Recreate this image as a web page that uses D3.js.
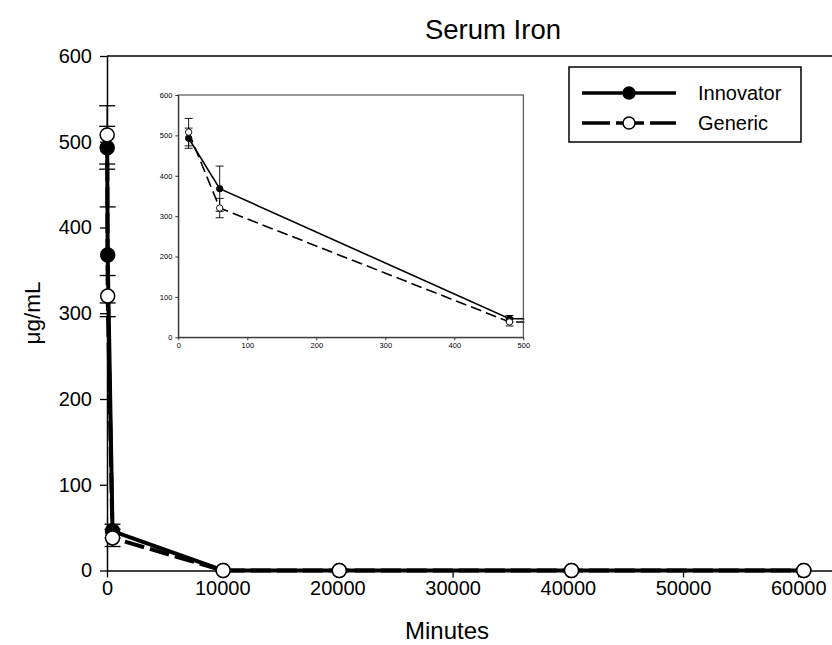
<!DOCTYPE html>
<html>
<head>
<meta charset="utf-8">
<script src="https://cdn.jsdelivr.net/npm/d3@7"></script>
<style>
  body { margin: 0; background: white; }
  svg { display: block; font-family: "Liberation Sans", Arial, sans-serif; }
</style>
</head>
<body>
<div id="chart"></div>
<script>
const width = 832;
const height = 645;

// sampling times (minutes) and mean serum iron (ug/mL) with error bars
const minutes = [15, 60, 480, 10080, 20160, 40320, 60480];
const innovator = [493, 368, 46, 0, 0, 0, 0];
const innovatorErr = [25, 56, 8, 0, 0, 0, 0];
const generic = [508, 320, 38, 0, 0, 0, 0];
const genericErr = [34, 24, 10, 0, 0, 0, 0];

const xTicks = [0, 10000, 20000, 30000, 40000, 50000, 60000];
const yTicks = [0, 100, 200, 300, 400, 500, 600];
const insetXTicks = [0, 100, 200, 300, 400, 500];
const insetYTicks = [0, 100, 200, 300, 400, 500, 600];

const seriesNames = ["Innovator", "Generic"];

const innovatorData = minutes.map((t, i) => ({ t, v: innovator[i], e: innovatorErr[i] }));
const genericData = minutes.map((t, i) => ({ t, v: generic[i], e: genericErr[i] }));

const svg = d3.select("#chart")
  .append("svg")
  .attr("width", width)
  .attr("height", height);

// ---- main chart ----
const x = d3.scaleLinear().domain([0, 63000]).range([107, 832.8]);
const y = d3.scaleLinear().domain([0, 600]).range([570.5, 56]);

svg.append("text")
  .attr("x", 493)
  .attr("y", 39)
  .attr("text-anchor", "middle")
  .style("font-size", "27.5px")
  .text("Serum Iron");

svg.append("text")
  .attr("x", 447)
  .attr("y", 639)
  .attr("text-anchor", "middle")
  .style("font-size", "24px")
  .text("Minutes");

svg.append("text")
  .attr("transform", "translate(40,313) rotate(-90)")
  .attr("text-anchor", "middle")
  .style("font-size", "22.5px")
  .text("μg/mL");

const xAxis = svg.append("g")
  .attr("transform", `translate(0,${y(0)})`)
  .call(d3.axisBottom(x).tickValues(xTicks).tickFormat(d3.format("d")).tickSize(7).tickSizeOuter(0).tickPadding(3));

const yAxis = svg.append("g")
  .attr("transform", `translate(${x(0)},0)`)
  .call(d3.axisLeft(y).tickValues(yTicks).tickSize(7).tickSizeOuter(0).tickPadding(8));

[xAxis, yAxis].forEach(a => {
  a.selectAll("text").style("font-size", "20px").attr("fill", "black").style("font-family", "'Liberation Sans', Arial, sans-serif");
  a.selectAll("line").attr("stroke", "black").attr("stroke-width", 1.3);
  a.select(".domain").attr("stroke", "black").attr("stroke-width", 1.5);
});

// top frame line
svg.append("line")
  .attr("x1", x(0)).attr("x2", width)
  .attr("y1", y(600)).attr("y2", y(600))
  .attr("stroke", "black").attr("stroke-width", 1.5);

function drawSeries(g, data, sx, sy, opt) {
  const line = d3.line().x(d => sx(d.t)).y(d => sy(d.v));
  g.append("path")
    .datum(data)
    .attr("d", line)
    .attr("fill", "none")
    .attr("stroke", "black")
    .attr("stroke-width", opt.lineWidth)
    .attr("stroke-dasharray", opt.dash || null);

  const bars = data.filter(d => d.e > 0);
  g.selectAll(null)
    .data(bars)
    .enter()
    .append("line")
    .attr("x1", d => sx(d.t)).attr("x2", d => sx(d.t))
    .attr("y1", d => sy(d.v - d.e)).attr("y2", d => sy(d.v + d.e))
    .attr("stroke", "black").attr("stroke-width", opt.barWidth);

  [-1, 1].forEach(s => {
    g.selectAll(null)
      .data(bars)
      .enter()
      .append("line")
      .attr("x1", d => sx(d.t) - opt.cap).attr("x2", d => sx(d.t) + opt.cap)
      .attr("y1", d => sy(d.v + s * d.e)).attr("y2", d => sy(d.v + s * d.e))
      .attr("stroke", "black").attr("stroke-width", opt.barWidth);
  });

  g.selectAll(null)
    .data(data)
    .enter()
    .append("circle")
    .attr("cx", d => sx(d.t))
    .attr("cy", d => sy(d.v))
    .attr("r", opt.r)
    .attr("fill", opt.filled ? "black" : "white")
    .attr("stroke", "black")
    .attr("stroke-width", opt.circleStroke);
}

const mainG = svg.append("g");
drawSeries(mainG, innovatorData, x, y, { lineWidth: 4, barWidth: 1.3, cap: 8, r: 7, filled: true, circleStroke: 1.5 });
drawSeries(mainG, genericData, x, y, { lineWidth: 4, dash: "20,6", barWidth: 1.3, cap: 8, r: 7, filled: false, circleStroke: 1.5 });

// ---- legend ----
const legend = svg.append("g");
legend.append("rect")
  .attr("x", 569).attr("y", 67)
  .attr("width", 232).attr("height", 75)
  .attr("fill", "white")
  .attr("stroke", "black")
  .attr("stroke-width", 1.5);

seriesNames.forEach((name, i) => {
  const ly = 93 + i * 30;
  legend.append("line")
    .attr("x1", 582).attr("x2", 676)
    .attr("y1", ly).attr("y2", ly)
    .attr("stroke", "black")
    .attr("stroke-width", 3.5)
    .attr("stroke-dasharray", i === 0 ? null : "28,6");
  legend.append("circle")
    .attr("cx", 629).attr("cy", ly)
    .attr("r", 6)
    .attr("fill", i === 0 ? "black" : "white")
    .attr("stroke", "black")
    .attr("stroke-width", 1.5);
  legend.append("text")
    .attr("x", 698).attr("y", ly + 7)
    .style("font-size", "20px")
    .text(name);
});

// ---- inset ----
const ix = d3.scaleLinear().domain([0, 500]).range([178.3, 523.3]);
const iy = d3.scaleLinear().domain([0, 600]).range([337.3, 95]);

const inset = svg.append("g");
inset.append("rect")
  .attr("x", ix(0)).attr("y", iy(600))
  .attr("width", ix(500) - ix(0)).attr("height", iy(0) - iy(600))
  .attr("fill", "white");

svg.append("clipPath")
  .attr("id", "insetClip")
  .append("rect")
  .attr("x", ix(0)).attr("y", iy(600) - 2)
  .attr("width", ix(500) - ix(0) + 1).attr("height", iy(0) - iy(600) + 4);

const insetData = inset.append("g").attr("clip-path", "url(#insetClip)");
drawSeries(insetData, innovatorData, ix, iy, { lineWidth: 1.6, barWidth: 0.9, cap: 4, r: 3.2, filled: true, circleStroke: 0.9 });
drawSeries(insetData, genericData, ix, iy, { lineWidth: 1.6, dash: "11,5", barWidth: 0.9, cap: 4, r: 3.2, filled: false, circleStroke: 0.9 });

inset.append("rect")
  .attr("x", ix(0)).attr("y", iy(600))
  .attr("width", ix(500) - ix(0)).attr("height", iy(0) - iy(600))
  .attr("fill", "none")
  .attr("stroke", "#333")
  .attr("stroke-width", 1);

const ixAxis = inset.append("g")
  .attr("transform", `translate(0,${iy(0)})`)
  .call(d3.axisBottom(ix).tickValues(insetXTicks).tickSize(3).tickSizeOuter(0).tickPadding(2));

const iyAxis = inset.append("g")
  .attr("transform", `translate(${ix(0)},0)`)
  .call(d3.axisLeft(iy).tickValues(insetYTicks).tickSize(3).tickSizeOuter(0).tickPadding(3));

[ixAxis, iyAxis].forEach(a => {
  a.selectAll("text").style("font-size", "7.5px").attr("fill", "black").style("font-family", "'Liberation Sans', Arial, sans-serif");
  a.selectAll("line").attr("stroke", "#333");
  a.select(".domain").attr("stroke", "#333");
});
</script>
</body>
</html>
